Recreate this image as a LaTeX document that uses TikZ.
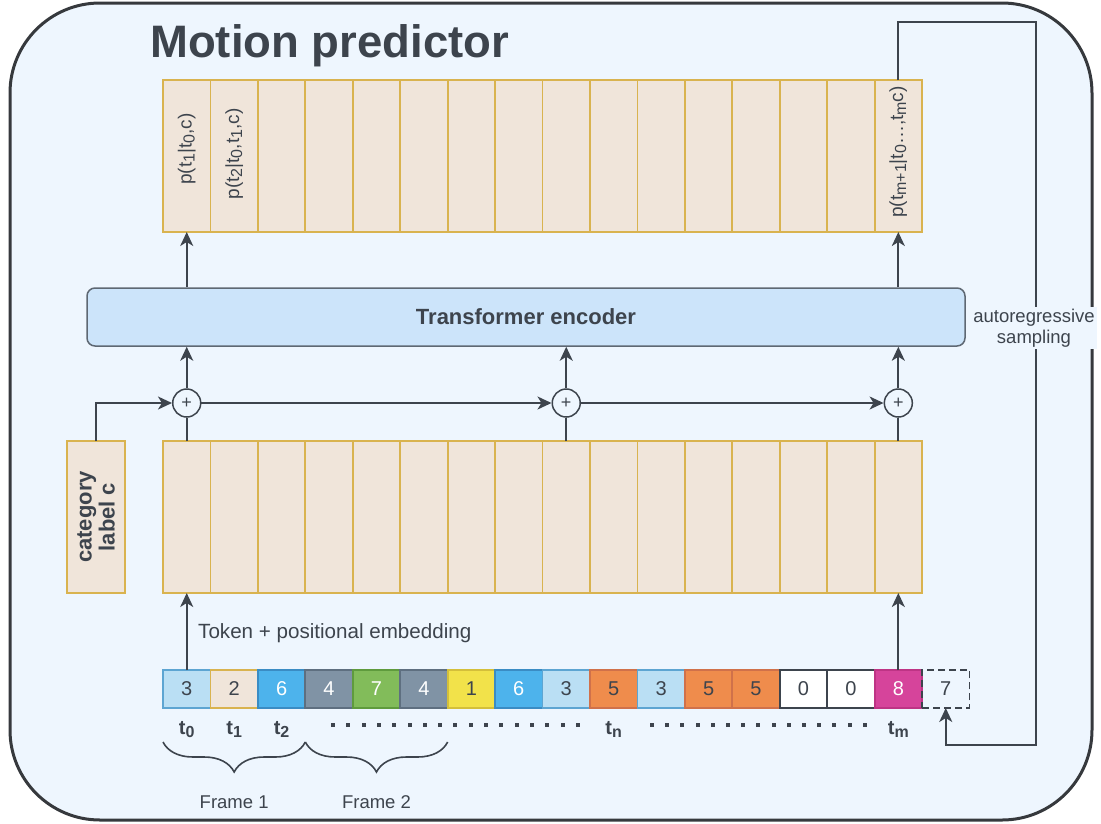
\documentclass[tikz,border=0pt]{standalone}
\usepackage{fontspec}
\setmainfont{Liberation Sans}
\usetikzlibrary{arrows.meta,decorations.pathreplacing,calc}

\definecolor{ink}{HTML}{3D444D}
\definecolor{frame}{HTML}{36393D}
\definecolor{panel}{HTML}{EEF6FE}
\definecolor{cellfill}{HTML}{F0E5DA}
\definecolor{cellline}{HTML}{D9B34F}
\definecolor{encfill}{HTML}{CCE4FA}
\definecolor{encline}{HTML}{5E6873}
\definecolor{tkLB}{HTML}{BADFF4}
\definecolor{tkLBd}{HTML}{5DA5D2}
\definecolor{tkBl}{HTML}{4DB3EC}
\definecolor{tkBld}{HTML}{3A8CC4}
\definecolor{tkSl}{HTML}{8093A5}
\definecolor{tkSld}{HTML}{5E6F80}
\definecolor{tkGr}{HTML}{82BC5A}
\definecolor{tkGrd}{HTML}{5F9B3D}
\definecolor{tkYe}{HTML}{F2E24A}
\definecolor{tkYed}{HTML}{D4BF3A}
\definecolor{tkOr}{HTML}{EF8C4C}
\definecolor{tkOrd}{HTML}{D0714A}
\definecolor{tkPk}{HTML}{D6449B}
\definecolor{tkPkd}{HTML}{BE3485}

\newcommand{\fs}[1]{\fontsize{#1}{#1}\selectfont}
% lowered index in the running text font, at a given size
\newcommand{\lo}[2]{\raisebox{-0.3ex}{\fs{#1}#2}}

\tikzset{
  cell/.style={draw=cellline, fill=cellfill, line width=1.8pt,
    minimum width=47.44pt, minimum height=152pt, inner sep=0pt, outer sep=0pt},
  plabel/.style={rotate=90, text=ink, font=\fs{19}, inner sep=0pt},
  conn/.style={draw=ink, line width=1.8pt,
    -{Stealth[length=14pt,width=13pt,inset=4pt]}},
  wire/.style={draw=ink, line width=1.8pt},
  adder/.style={circle, draw=ink, fill=panel, line width=1.5pt,
    minimum size=28pt, inner sep=0pt, font=\fs{18}, text=ink},
  tok/.style={minimum width=47.44pt, minimum height=38pt, inner sep=0pt,
    outer sep=0pt, line width=1.8pt, font=\fs{20}, text=ink},
  tkA/.style={fill=tkLB, draw=tkLBd},
  tkB/.style={fill=cellfill, draw=cellline},
  tkC/.style={fill=tkBl, draw=tkBld, text=white},
  tkD/.style={fill=tkSl, draw=tkSld, text=white},
  tkE/.style={fill=tkGr, draw=tkGrd, text=white},
  tkF/.style={fill=tkYe, draw=tkYed},
  tkG/.style={fill=tkOr, draw=tkOrd},
  tkH/.style={fill=white, draw=ink},
  tkI/.style={fill=tkPk, draw=tkPkd, text=white},
  tkJ/.style={draw=ink, dash pattern=on 7pt off 4pt},
  tname/.style={font=\bfseries\fs{20}, text=ink, inner sep=0pt, anchor=base},
  brace/.style={draw=ink, line width=1.6pt,
    decorate, decoration={brace, amplitude=30pt, mirror}},
  note/.style={text=ink, font=\fs{18.5}, inner sep=1pt},
}

\begin{document}
\begin{tikzpicture}[x=1pt,y=-1pt]
\useasboundingbox (0,0) rectangle (1101,823);

% container
\node[draw=frame, fill=panel, line width=3pt, rounded corners=90pt,
  minimum width=1082pt, minimum height=817pt, inner sep=0pt] (panel) at (551,411.5) {};
\node[anchor=base west, font=\bfseries\fs{45.5}, text=ink, inner sep=0pt] (title) at (150,57) {Motion predictor};

% output distribution cells
\foreach \i in {1,...,16} {
  \node[cell] (o\i) at ({163+47.44*(\i-0.5)},156) {};
}
\node[plabel] (lab1) at ($(o1)+(0,-7)$) {p(t\lo{16}{1}|t\lo{16}{0},c)};
\node[plabel] (lab2) at ($(o2)+(0,-2)$) {p(t\lo{16}{2}|t\lo{16}{0},t\lo{16}{1},c)};
\node[plabel] (lab16) at ($(o16)+(0,-4)$) {p(t\lo{16}{m+1}|t\lo{16}{0}\dots,t\lo{16}{m}c)};

% embedding cells
\foreach \i in {1,...,16} {
  \node[cell] (e\i) at ({163+47.44*(\i-0.5)},517) {};
}
\node[cell, minimum width=58pt] (cat) at (96,517) {};
\node[rotate=90, align=center, font=\bfseries\fs{22}, text=ink, inner sep=0pt] (catlab) at (cat)
  {category\\[1pt]label c};

% encoder
\node[draw=encline, fill=encfill, line width=1.5pt, rounded corners=8pt,
  minimum width=878pt, minimum height=58pt, inner sep=0pt,
  font=\bfseries\fs{22}, text=ink] (enc) at (526,317) {Transformer encoder};

% adders
\node[adder] (a1) at (e1.center |- 0,403) {+};
\node[adder] (a9) at (e9.center |- 0,403) {+};
\node[adder] (a16) at (e16.center |- 0,403) {+};

\draw[wire] (e1.north) -- (a1.south);
\draw[wire] (e9.north) -- (a9.south);
\draw[wire] (e16.north) -- (a16.south);
\draw[conn] (cat.north) |- (a1.west);
\draw[conn] (a1.east) -- (a9.west);
\draw[conn] (a9.east) -- (a16.west);
\draw[conn] (a1.north) -- (a1.north |- enc.south);
\draw[conn] (a9.north) -- (a9.north |- enc.south);
\draw[conn] (a16.north) -- (a16.north |- enc.south);
\draw[conn] (o1.south |- enc.north) -- (o1.south);
\draw[conn] (o16.south |- enc.north) -- (o16.south);

% token sequence
\foreach \v/\s [count=\i] in {3/tkA,2/tkB,6/tkC,4/tkD,7/tkE,4/tkD,1/tkF,6/tkC,3/tkA,5/tkG,3/tkA,5/tkG,5/tkG,0/tkH,0/tkH,8/tkI,7/tkJ} {
  \node[tok,\s] (tk\i) at ({163+47.44*(\i-0.5)},689) {\v};
}
\draw[conn] (tk1.north) -- (e1.south);
\draw[conn] (tk16.north) -- (e16.south);
\node[note, anchor=base west, font=\fs{20.6}] (embtxt) at (197,638) {Token + positional embedding};

% token names
\node[tname] (n0) at ($(tk1.south)+(0,26)$) {t\lo{16}{0}};
\node[tname] (n1) at ($(tk2.south)+(0,26)$) {t\lo{16}{1}};
\node[tname] (n2) at ($(tk3.south)+(0,26)$) {t\lo{16}{2}};
\node[tname] (nn) at ($(tk10.south)+(0,26)$) {t\lo{16}{n}};
\node[tname] (nm) at ($(tk16.south)+(0,26)$) {t\lo{16}{m}};
\foreach \k in {0,...,16} \fill[ink] ({333+15.3*\k-2},723) rectangle ++(4,4);
\foreach \k in {0,...,14} \fill[ink] ({652+15.2*\k-2},723) rectangle ++(4,4);

% frame braces
\draw[brace] ($(tk1.south west)+(0,34)$) -- ($(tk3.south east)+(0,34)$);
\draw[brace] ($(tk4.south west)+(0,34)$) -- ($(tk6.south east)+(0,34)$);
\node[note] (fr1) at ($(tk2.south)+(0,94)$) {Frame 1};
\node[note] (fr2) at ($(tk5.south)+(0,94)$) {Frame 2};

% sampling feedback loop
\coordinate (loopTop) at (1036,22);
\coordinate (loopBot) at (1036,745);
\draw[conn] (o16.north) |- (loopTop) -- (loopBot) -| (tk17.south);
\node[note, fill=panel, align=center, inner sep=2pt] (sampl) at (1034,328)
  {autoregressive\\[3pt]sampling};
\end{tikzpicture}
\end{document}
